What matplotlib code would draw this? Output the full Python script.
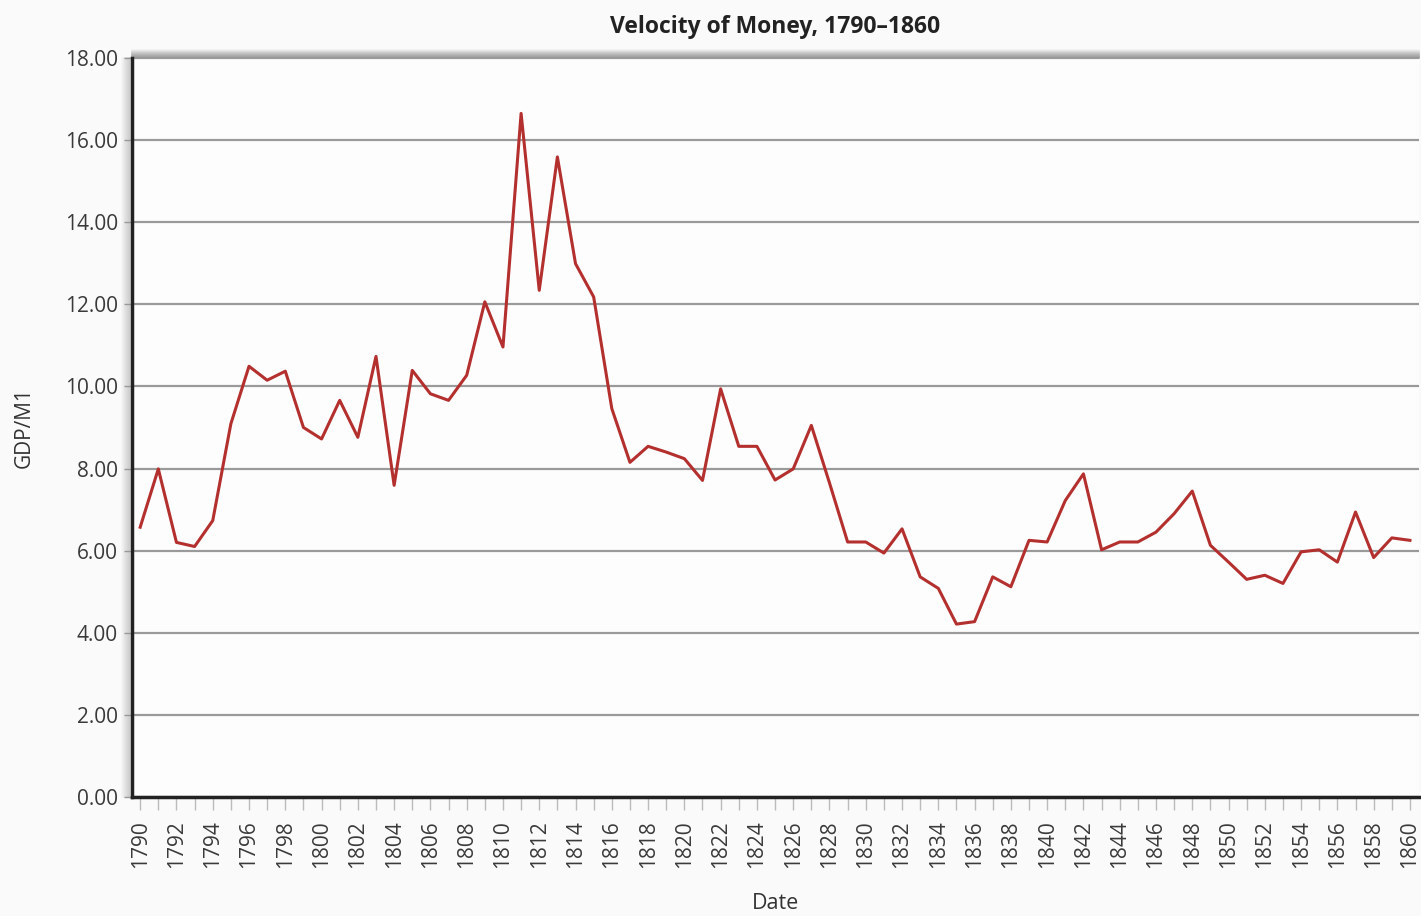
import numpy as np
import matplotlib.pyplot as plt
from matplotlib.lines import Line2D

plt.rcParams['font.family'] = ['Open Sans', 'DejaVu Sans']

years = list(range(1790, 1861))
velocity = [
    6.57, 7.99, 6.20, 6.10, 6.73, 9.09, 10.49, 10.15, 10.37, 9.00,
    8.72, 9.66, 8.76, 10.73, 7.59, 10.39, 9.82, 9.66, 10.27, 12.06,
    10.96, 16.65, 12.34, 15.59, 12.99, 12.18, 9.46, 8.15, 8.54, 8.40,
    8.24, 7.71, 9.94, 8.54, 8.54, 7.72, 7.99, 9.05, 7.65, 6.21,
    6.21, 5.94, 6.53, 5.36, 5.08, 4.21, 4.27, 5.36, 5.12, 6.25,
    6.21, 7.22, 7.87, 6.02, 6.21, 6.21, 6.45, 6.90, 7.45, 6.13,
    5.72, 5.30, 5.40, 5.20, 5.97, 6.02, 5.72, 6.94, 5.83, 6.31,
    6.25,
]
y_ticks = [0, 2, 4, 6, 8, 10, 12, 14, 16, 18]

fig = plt.figure(figsize=(14.21, 9.16), dpi=100, facecolor='#fafafa')
ax = fig.add_axes([0.0929, 0.130, 0.9057, 0.8067])
ax.set_facecolor('#fdfdfd')

x = np.arange(len(years))
ax.plot(x, velocity, color='#b3302e', linewidth=2.2, zorder=3)

ax.set_xlim(-0.45, len(years) - 0.5)
ax.set_ylim(0, 18)
ax.set_yticks(y_ticks)
ax.set_yticklabels([f'{v:.2f}' for v in y_ticks])
ax.set_xticks(x)
ax.set_xticklabels([str(yr) if (yr - 1790) % 2 == 0 else '' for yr in years],
                   rotation=90)
ax.yaxis.grid(True, color='#9a9a9a', linewidth=1.6)
ax.set_axisbelow(True)

ax.tick_params(axis='both', labelsize=15, colors='#444444', labelcolor='#3a3a3a')
ax.tick_params(axis='x', length=9, width=1, color='#bbbbbb', pad=8)
ax.tick_params(axis='y', length=6, width=1, color='#999999', pad=4)

for side in ('top', 'right'):
    ax.spines[side].set_visible(False)
ax.spines['left'].set_linewidth(2.5)
ax.spines['bottom'].set_linewidth(2.5)
ax.spines['left'].set_color('#222222')
ax.spines['bottom'].set_color('#222222')

# soft shadow along the top and left edges of the plot frame
pos = ax.get_position()
W, H = fig.get_size_inches() * fig.dpi
for i in range(9):
    a = 0.45 * (1 - i / 9)
    dy = i / H
    fig.add_artist(Line2D([pos.x0, pos.x1], [pos.y1 + dy, pos.y1 + dy],
                          transform=fig.transFigure, color='#555555',
                          alpha=a, linewidth=1.2, zorder=0))
    dx = (i + 2) / W
    fig.add_artist(Line2D([pos.x0 - dx, pos.x0 - dx], [pos.y0, pos.y1],
                          transform=fig.transFigure, color='#888888',
                          alpha=a * 0.6, linewidth=1.2, zorder=0))

ax.set_title('Velocity of Money, 1790\u20131860', fontsize=16.5,
             fontweight='bold', color='#222222', pad=18)
ax.set_ylabel('GDP/M1', fontsize=15, color='#333333', labelpad=22)
ax.set_xlabel('Date', fontsize=15.5, color='#333333', labelpad=18)

fig.savefig('out.png', dpi=100, facecolor=fig.get_facecolor())
